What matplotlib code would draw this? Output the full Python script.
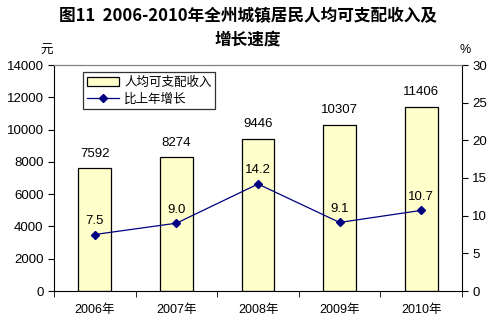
import numpy as np
import matplotlib.pyplot as plt

plt.rcParams['font.family'] = ['Liberation Sans', 'Noto Sans CJK SC', 'DejaVu Sans']

years = ['2006年', '2007年', '2008年', '2009年', '2010年']
income = [7592, 8274, 9446, 10307, 11406]
growth = [7.5, 9.0, 14.2, 9.1, 10.7]

fig = plt.figure(figsize=(4.96, 3.24), dpi=100)
ax = fig.add_axes([54 / 496, 1 - 291 / 324, 408 / 496, 226 / 324])
ax2 = ax.twinx()

x = np.arange(len(years))
bars = ax.bar(x, income, width=0.4, color='#FFFFCC', edgecolor='black',
              linewidth=0.9, label='人均可支配收入', zorder=2)
for xi, v in zip(x, income):
    ax.text(xi, v + 550, str(v), ha='center', va='bottom', fontsize=9.5)

line, = ax2.plot(x, growth, color='#000080', marker='D', markersize=4,
                 linewidth=0.9, label='比上年增长')
for xi, v in zip(x, growth):
    ax2.text(xi, v + 1.0, '%.1f' % v, ha='center', va='bottom', fontsize=9.5)

ax.set_xlim(-0.5, 4.5)
ax.set_ylim(0, 14000)
ax.set_yticks(range(0, 14001, 2000))
ax2.set_ylim(0, 30)
ax2.set_yticks(range(0, 31, 5))

ax.set_xticks(x)
ax.set_xticklabels(years, fontsize=9)
ax.set_xticks(np.arange(-0.5, 5, 1), minor=True)
ax.tick_params(axis='x', which='major', length=0, pad=9)
ax.tick_params(axis='x', which='minor', length=4, direction='out')
ax.tick_params(axis='y', labelsize=9.5, length=4, direction='out')
ax2.tick_params(axis='y', labelsize=9.5, length=4, direction='out')

for a in (ax, ax2):
    a.spines['top'].set_color('#808080')
    a.spines['top'].set_linewidth(0.8)
ax.spines['right'].set_visible(False)
ax2.spines['left'].set_visible(False)
ax2.spines['bottom'].set_visible(False)

fig.text(47 / 496, 1 - 50 / 324, '元', fontsize=9,
         family=['Noto Sans CJK SC'], ha='center', va='center')
fig.text(465 / 496, 1 - 50 / 324, '%', fontsize=9,
         ha='center', va='center')

leg = ax.legend([bars, line], ['人均可支配收入', '比上年增长'],
                loc='upper left', bbox_to_anchor=(0.071, 0.97),
                borderaxespad=0,
                prop={'family': ['Noto Sans CJK SC'], 'size': 9},
                frameon=True, fancybox=False, edgecolor='black',
                borderpad=0.3, labelspacing=0.3, handlelength=2.6,
                handletextpad=0.4)
leg.get_frame().set_linewidth(0.9)

fig.text(0.5, 1 - 16 / 324, '图11  2006-2010年全州城镇居民人均可支配收入及',
         ha='center', va='center', fontsize=12, fontweight='bold',
         family=['Noto Sans CJK SC'])
fig.text(0.5, 1 - 40 / 324, '增长速度',
         ha='center', va='center', fontsize=12, fontweight='bold',
         family=['Noto Sans CJK SC'])

fig.savefig('out.png', dpi=100)
